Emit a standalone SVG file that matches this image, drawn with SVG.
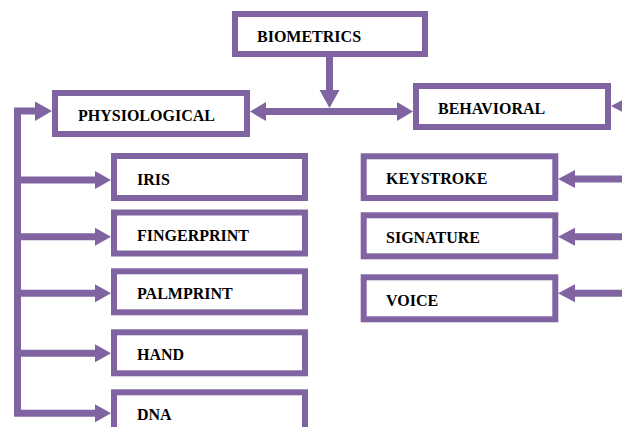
<svg xmlns="http://www.w3.org/2000/svg" width="622" height="427" viewBox="0 0 622 427">
<style>
.box{fill:#fff;stroke:#8064A2;stroke-width:6}
.lbl{font-family:"Liberation Serif","Times New Roman",serif;font-weight:bold;font-size:16px;fill:#000}
.ln{fill:none;stroke:#8064A2;stroke-width:7;stroke-linejoin:miter}
.ah{fill:#8064A2}
</style>
<rect width="622" height="427" fill="#fff"/>
<g id="connectors">
<line class="ln" x1="329.5" y1="57" x2="329.5" y2="92"/>
<polygon class="ah" points="319.5,90 339.5,90 329.5,108"/>
<line class="ln" x1="263" y1="111.5" x2="399" y2="111.5"/>
<polygon class="ah" points="266,102 266,121 250,111.5"/>
<polygon class="ah" points="397,102 397,121 413,111.5"/>
<path class="ln" d="M37 111 H17.5 V413.3 H97"/>
<polygon class="ah" points="35,101.5 35,121 52,111"/>
<path class="ln" d="M17.5 180 H97 M17.5 236.7 H97 M17.5 293.3 H97 M17.5 353.3 H97"/>
<polygon class="ah" points="95,171 95,189 111,180"/>
<polygon class="ah" points="95,227.7 95,245.7 111,236.7"/>
<polygon class="ah" points="95,284.3 95,302.3 111,293.3"/>
<polygon class="ah" points="95,344.3 95,362.3 111,353.3"/>
<polygon class="ah" points="95,404.3 95,422.3 111,413.3"/>
<path class="ln" d="M625 179 H573 M625 236.7 H573 M625 293.3 H573"/>
<polygon class="ah" points="575,170 575,188 558,179"/>
<polygon class="ah" points="575,227.7 575,245.7 558,236.7"/>
<polygon class="ah" points="575,284.3 575,302.3 558,293.3"/>
<polygon class="ah" points="611,106 628,97 628,115"/>
</g>
<g id="biometrics"><rect class="box" x="235" y="14" width="190" height="40"/><text class="lbl" x="257" y="42">BIOMETRICS</text></g>
<g id="physiological"><rect class="box" x="55" y="93" width="192" height="41"/><text class="lbl" x="78" y="121">PHYSIOLOGICAL</text></g>
<g id="behavioral"><rect class="box" x="416" y="86" width="192" height="41"/><text class="lbl" x="438" y="114">BEHAVIORAL</text></g>
<g id="iris"><rect class="box" x="114" y="156" width="191" height="42"/><text class="lbl" x="137" y="184.5">IRIS</text></g>
<g id="fingerprint"><rect class="box" x="114" y="212.5" width="191" height="41"/><text class="lbl" x="137" y="240.5">FINGERPRINT</text></g>
<g id="palmprint"><rect class="box" x="114" y="271.3" width="191" height="41"/><text class="lbl" x="137" y="299">PALMPRINT</text></g>
<g id="hand"><rect class="box" x="114" y="332.3" width="191" height="41"/><text class="lbl" x="137" y="360">HAND</text></g>
<g id="dna"><rect class="box" x="114" y="392.3" width="191" height="41"/><text class="lbl" x="137" y="420">DNA</text></g>
<g id="keystroke"><rect class="box" x="363.7" y="156.3" width="191.6" height="41.7"/><text class="lbl" x="386" y="184">KEYSTROKE</text></g>
<g id="signature"><rect class="box" x="363.7" y="215.3" width="191.6" height="41"/><text class="lbl" x="386" y="243">SIGNATURE</text></g>
<g id="voice"><rect class="box" x="363.7" y="277.3" width="191.6" height="42"/><text class="lbl" x="386" y="306">VOICE</text></g>
</svg>
